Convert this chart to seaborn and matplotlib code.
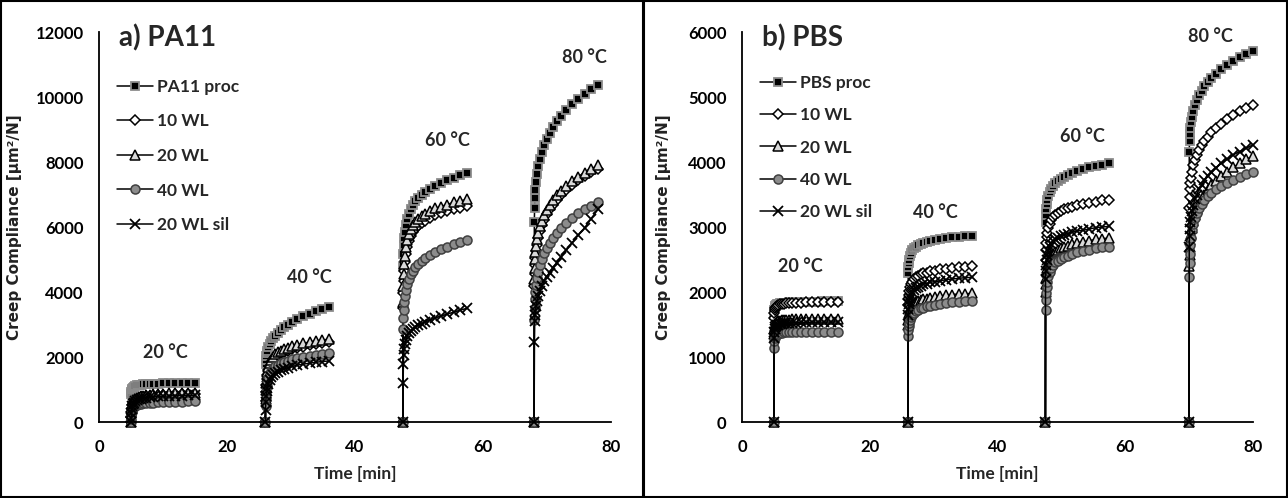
import matplotlib
matplotlib.use("Agg")
import matplotlib.pyplot as plt
import seaborn as sns
import pandas as pd
from matplotlib.lines import Line2D
from matplotlib.patches import Rectangle

# ---------------- data ----------------
# time offsets (min) after the start of each load step; first point = unloaded (0)
T_OFF = [0.0, 0.02, 0.06, 0.12, 0.2, 0.3, 0.45, 0.65, 0.9, 1.2, 1.55, 1.95,
         2.4, 2.9, 3.5, 4.2, 5.0, 5.9, 6.9, 7.9, 8.9, 10.0]
PA11_STARTS = [5, 26, 47.5, 68]
PBS_STARTS = [5, 26, 47.5, 70]
TEMPS = ["20 °C", "40 °C", "60 °C", "80 °C"]

PA11_LABELS = ["PA11 proc", "10 WL", "20 WL", "40 WL", "20 WL sil"]
PBS_LABELS = ["PBS proc", "10 WL", "20 WL", "40 WL", "20 WL sil"]

# PA11 creep compliance [um^2/N], one list per temperature step
PA11_PROC = [
    [0, 850, 930, 980, 1030, 1060, 1090, 1110, 1130, 1140, 1150, 1160, 1170, 1170, 1180, 1180, 1190, 1190, 1190, 1200, 1200, 1200],
    [0, 1800, 1920, 2030, 2120, 2200, 2300, 2390, 2490, 2580, 2660, 2750, 2830, 2910, 2990, 3080, 3160, 3250, 3330, 3410, 3480, 3550],
    [0, 4800, 5160, 5440, 5670, 5860, 6060, 6240, 6400, 6550, 6680, 6790, 6890, 6980, 7080, 7170, 7270, 7360, 7450, 7520, 7590, 7660],
    [0, 6150, 6570, 6890, 7150, 7380, 7630, 7870, 8100, 8320, 8520, 8720, 8900, 9070, 9250, 9430, 9600, 9780, 9950, 10100, 10240, 10370],
]
PA11_10WL = [
    [0, 150, 310, 420, 510, 580, 630, 680, 710, 740, 760, 780, 790, 800, 810, 830, 830, 840, 850, 850, 860, 860],
    [0, 650, 920, 1140, 1320, 1460, 1600, 1730, 1840, 1930, 2000, 2050, 2110, 2150, 2200, 2240, 2290, 2320, 2360, 2400, 2420, 2450],
    [0, 3500, 3970, 4350, 4660, 4910, 5160, 5380, 5570, 5730, 5860, 5950, 6040, 6120, 6200, 6280, 6360, 6420, 6480, 6550, 6590, 6640],
    [0, 4200, 4560, 4830, 5050, 5250, 5460, 5670, 5870, 6050, 6220, 6390, 6540, 6690, 6840, 6990, 7150, 7290, 7440, 7570, 7690, 7800],
]
PA11_20WL = [
    [0, 150, 320, 440, 530, 600, 660, 710, 740, 770, 800, 810, 830, 840, 850, 860, 870, 880, 890, 890, 900, 900],
    [0, 700, 980, 1200, 1390, 1530, 1680, 1810, 1920, 2010, 2090, 2140, 2200, 2250, 2290, 2340, 2380, 2420, 2460, 2500, 2520, 2550],
    [0, 3700, 4170, 4550, 4870, 5120, 5370, 5590, 5780, 5940, 6060, 6160, 6250, 6330, 6410, 6490, 6570, 6630, 6690, 6760, 6800, 6850],
    [0, 4400, 4750, 5010, 5230, 5420, 5630, 5830, 6020, 6200, 6370, 6530, 6680, 6820, 6970, 7120, 7260, 7410, 7550, 7670, 7790, 7900],
]
PA11_40WL = [
    [0, 100, 220, 310, 370, 420, 470, 500, 530, 550, 560, 580, 590, 600, 600, 610, 620, 620, 630, 630, 640, 640],
    [0, 500, 740, 940, 1100, 1230, 1360, 1470, 1570, 1650, 1720, 1760, 1810, 1850, 1890, 1930, 1970, 2010, 2040, 2070, 2100, 2120],
    [0, 2850, 3200, 3460, 3690, 3870, 4060, 4240, 4400, 4540, 4660, 4770, 4870, 4960, 5050, 5140, 5240, 5320, 5400, 5480, 5540, 5610],
    [0, 3150, 3510, 3790, 4010, 4210, 4420, 4630, 4830, 5020, 5190, 5360, 5510, 5660, 5810, 5970, 6120, 6270, 6420, 6540, 6660, 6780],
]
PA11_SIL = [
    [0, 130, 280, 390, 480, 540, 600, 640, 680, 700, 720, 740, 750, 770, 780, 790, 790, 800, 810, 810, 820, 820],
    [0, 380, 610, 790, 940, 1060, 1180, 1280, 1370, 1450, 1510, 1550, 1600, 1630, 1670, 1710, 1750, 1780, 1810, 1840, 1860, 1880],
    [0, 1200, 1800, 2050, 2250, 2400, 2530, 2640, 2730, 2810, 2870, 2920, 2980, 3030, 3080, 3140, 3200, 3260, 3320, 3380, 3440, 3500],
    [0, 2470, 3100, 3280, 3430, 3570, 3720, 3880, 4030, 4180, 4330, 4470, 4600, 4740, 4900, 5080, 5290, 5510, 5750, 5980, 6260, 6550],
]

# PBS creep compliance [um^2/N]
PBS_PROC = [
    [0, 1650, 1720, 1760, 1785, 1800, 1812, 1820, 1826, 1831, 1835, 1838, 1841, 1843, 1845, 1847, 1849, 1851, 1853, 1855, 1857, 1860],
    [0, 2290, 2380, 2450, 2500, 2550, 2600, 2640, 2670, 2700, 2720, 2740, 2760, 2770, 2790, 2800, 2810, 2830, 2840, 2850, 2860, 2865],
    [0, 3080, 3190, 3280, 3350, 3420, 3480, 3540, 3590, 3630, 3670, 3710, 3740, 3770, 3800, 3830, 3860, 3890, 3920, 3940, 3960, 3985],
    [0, 4160, 4320, 4430, 4530, 4610, 4700, 4790, 4880, 4960, 5030, 5100, 5170, 5230, 5300, 5360, 5430, 5490, 5560, 5610, 5660, 5710],
]
PBS_10WL = [
    [0, 1600, 1680, 1725, 1755, 1775, 1790, 1800, 1808, 1815, 1820, 1824, 1828, 1831, 1834, 1837, 1840, 1842, 1844, 1846, 1848, 1850],
    [0, 1800, 1890, 1960, 2020, 2070, 2120, 2160, 2200, 2230, 2250, 2270, 2290, 2300, 2320, 2330, 2350, 2360, 2370, 2380, 2390, 2400],
    [0, 2500, 2640, 2750, 2840, 2910, 2990, 3050, 3110, 3150, 3190, 3220, 3250, 3270, 3290, 3310, 3340, 3360, 3370, 3390, 3410, 3420],
    [0, 3300, 3460, 3580, 3670, 3760, 3850, 3950, 4030, 4110, 4190, 4260, 4330, 4390, 4460, 4530, 4590, 4660, 4720, 4780, 4830, 4880],
]
PBS_20WL = [
    [0, 1350, 1430, 1480, 1510, 1530, 1542, 1552, 1559, 1565, 1569, 1573, 1576, 1579, 1581, 1583, 1585, 1586, 1587, 1588, 1589, 1590],
    [0, 1500, 1570, 1630, 1680, 1720, 1750, 1790, 1820, 1840, 1860, 1870, 1890, 1900, 1910, 1920, 1940, 1950, 1960, 1970, 1970, 1980],
    [0, 2000, 2130, 2220, 2310, 2370, 2440, 2500, 2550, 2590, 2620, 2650, 2670, 2690, 2710, 2740, 2760, 2770, 2790, 2810, 2820, 2830],
    [0, 2400, 2570, 2700, 2800, 2890, 2990, 3090, 3180, 3270, 3350, 3430, 3500, 3570, 3640, 3710, 3780, 3850, 3920, 3980, 4040, 4090],
]
PBS_40WL = [
    [0, 1140, 1240, 1290, 1320, 1340, 1352, 1361, 1368, 1373, 1377, 1380, 1383, 1385, 1386, 1387, 1388, 1389, 1390, 1390, 1391, 1392],
    [0, 1330, 1410, 1470, 1530, 1570, 1610, 1650, 1680, 1710, 1730, 1750, 1760, 1780, 1790, 1800, 1820, 1830, 1840, 1850, 1860, 1865],
    [0, 1720, 1870, 1990, 2080, 2160, 2240, 2310, 2370, 2420, 2460, 2480, 2510, 2540, 2560, 2590, 2610, 2630, 2650, 2670, 2690, 2700],
    [0, 2235, 2440, 2590, 2720, 2830, 2950, 3050, 3140, 3220, 3290, 3360, 3410, 3470, 3520, 3580, 3630, 3680, 3730, 3770, 3810, 3850],
]
PBS_SIL = [
    [0, 1300, 1380, 1425, 1455, 1475, 1490, 1500, 1507, 1513, 1518, 1522, 1525, 1528, 1530, 1532, 1534, 1535, 1536, 1537, 1538, 1540],
    [0, 1650, 1740, 1810, 1860, 1910, 1960, 2000, 2030, 2060, 2080, 2100, 2120, 2130, 2150, 2160, 2170, 2190, 2200, 2210, 2220, 2225],
    [0, 2200, 2320, 2420, 2500, 2570, 2630, 2690, 2740, 2780, 2810, 2830, 2860, 2880, 2900, 2920, 2940, 2950, 2970, 2990, 3000, 3010],
    [0, 2700, 2860, 2970, 3070, 3160, 3250, 3340, 3430, 3500, 3580, 3650, 3720, 3780, 3850, 3910, 3980, 4040, 4110, 4160, 4210, 4265],
]

# temperature label anchors (time, compliance)
PA11_TEMP_POS = [(10.3, 2150), (32.8, 4460), (54.4, 8650), (75.8, 11230)]
PBS_TEMP_POS = [(9.1, 2385), (30.2, 3220), (53.3, 4390), (73.3, 5930)]

# ---------------- styling ----------------
STYLES = [
    dict(marker="s", markersize=5.5, markerfacecolor="black", markeredgecolor="#8c8c8c", markeredgewidth=1.3),
    dict(marker="D", markersize=5.5, markerfacecolor="white", markeredgecolor="black", markeredgewidth=1.1),
    dict(marker="^", markersize=7.0, markerfacecolor="#d9d9d9", markeredgecolor="black", markeredgewidth=1.1),
    dict(marker="o", markersize=6.5, markerfacecolor="#8c8c8c", markeredgecolor="#404040", markeredgewidth=1.1),
    dict(marker="x", markersize=6.5, markerfacecolor="black", markeredgecolor="black", markeredgewidth=1.3),
]

sns.set_style("white")
plt.rcParams["font.family"] = ["Lato", "DejaVu Sans"]
plt.rcParams["font.weight"] = "bold"


def build_frame(series, labels, starts):
    rows = []
    for label, segs in zip(labels, series):
        for k, (start, vals) in enumerate(zip(starts, segs)):
            for off, v in zip(T_OFF, vals):
                rows.append({"time": start + off, "value": v, "series": label, "step": k})
    return pd.DataFrame(rows)


def draw_panel(ax, series, labels, starts, ymax, ystep, title, temp_pos, ylab_x,
               legend_spacing, legend_top):
    df = build_frame(series, labels, starts)
    for label, st in zip(labels, STYLES):
        sub = df[df["series"] == label]
        sns.lineplot(data=sub, x="time", y="value", units="step", estimator=None,
                     color="black", linewidth=1.1, legend=False, ax=ax,
                     clip_on=False, **st)
    ax.set_xlim(0, 80)
    ax.set_ylim(0, ymax)
    ax.set_xticks([0, 20, 40, 60, 80])
    ax.set_yticks(list(range(0, ymax + 1, ystep)))
    sns.despine(ax=ax)
    for sp in ("left", "bottom"):
        ax.spines[sp].set_linewidth(1.3)
        ax.spines[sp].set_color("black")
    ax.tick_params(direction="in", length=5, width=1.2, colors="black", labelsize=12)
    ax.tick_params(axis="y", pad=11)
    ax.tick_params(axis="x", pad=12)
    for lab in ax.get_xticklabels() + ax.get_yticklabels():
        lab.set_fontweight("bold")
    ax.set_xlabel("Time [min]", fontsize=12.5, fontweight="bold", labelpad=8)
    ax.set_ylabel("Creep Compliance [µm²/N]", fontsize=11, fontweight="bold",
                  family=["DejaVu Sans"], color="#222222")
    ax.yaxis.set_label_coords(ylab_x, 0.5)
    ax.text(0.039, 0.985, title, transform=ax.transAxes, fontsize=20,
            fontweight="bold", ha="left", va="center")
    for txt, (tx, ty) in zip(TEMPS, temp_pos):
        ax.text(tx, ty, txt, fontsize=13, fontweight="bold", ha="center", va="center")
    handles = [Line2D([], [], color="black", linewidth=1.1, **st) for st in STYLES]
    ax.legend(handles, labels, loc="upper left", bbox_to_anchor=(0.035, legend_top),
              frameon=False, borderpad=0, borderaxespad=0, handlelength=2.1,
              handletextpad=0.2, labelspacing=legend_spacing,
              prop={"size": 12.5, "weight": "bold"})


W, H = 12.88, 4.98
fig = plt.figure(figsize=(W, H), dpi=100)
ax1 = fig.add_axes([99 / 1288, 1 - 422 / 498, 512 / 1288, 390 / 498])
ax2 = fig.add_axes([742 / 1288, 1 - 422 / 498, 511 / 1288, 390 / 498])

draw_panel(ax1, [PA11_PROC, PA11_10WL, PA11_20WL, PA11_40WL, PA11_SIL], PA11_LABELS,
           PA11_STARTS, 12000, 2000, "a) PA11", PA11_TEMP_POS, -0.150, 1.07, 0.88)
draw_panel(ax2, [PBS_PROC, PBS_10WL, PBS_20WL, PBS_40WL, PBS_SIL], PBS_LABELS,
           PBS_STARTS, 6000, 1000, "b) PBS", PBS_TEMP_POS, -0.139, 0.94, 0.89)

fig.add_artist(Rectangle((1 / 1288, 1 / 498), 642 / 1288, 496 / 498, transform=fig.transFigure,
                         fill=False, linewidth=1.5, edgecolor="black"))
fig.add_artist(Rectangle((644 / 1288, 1 / 498), 643 / 1288, 496 / 498, transform=fig.transFigure,
                         fill=False, linewidth=1.5, edgecolor="black"))

fig.savefig("out.png", dpi=100)
